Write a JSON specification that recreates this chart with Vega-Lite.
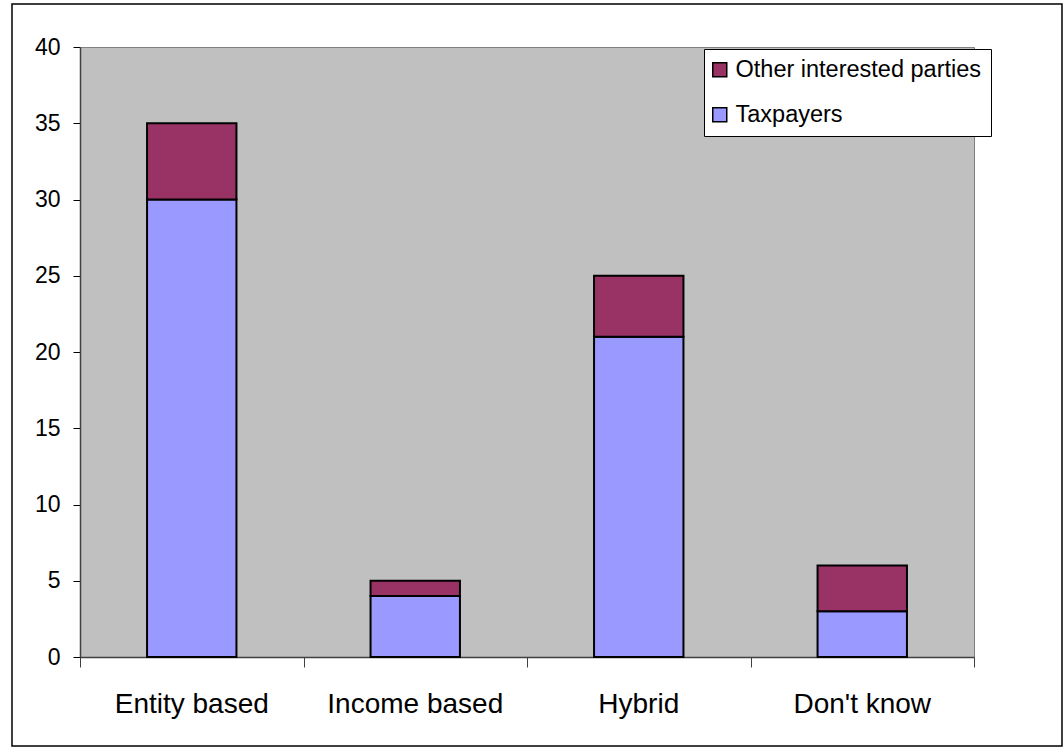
{
  "$schema": "https://vega.github.io/schema/vega-lite/v6.json",
  "width": 894,
  "height": 610,
  "autosize": {"type": "none"},
  "padding": {"left": 80, "top": 47, "right": 90, "bottom": 91},
  "background": "white",
  "config": {
    "font": "Liberation Sans",
    "view": {"fill": "#C0C0C0", "stroke": "#808080", "strokeWidth": 1}
  },
  "datasets": {
    "responses": [
      {"response": "Entity based", "series": "Taxpayers", "count": 30},
      {"response": "Entity based", "series": "Other interested parties", "count": 5},
      {"response": "Income based", "series": "Taxpayers", "count": 4},
      {"response": "Income based", "series": "Other interested parties", "count": 1},
      {"response": "Hybrid", "series": "Taxpayers", "count": 21},
      {"response": "Hybrid", "series": "Other interested parties", "count": 4},
      {"response": "Don't know", "series": "Taxpayers", "count": 3},
      {"response": "Don't know", "series": "Other interested parties", "count": 3}
    ]
  },
  "layer": [
    {
      "data": {"values": [{}]},
      "mark": {"type": "rect", "filled": false, "stroke": "black", "strokeWidth": 1.5},
      "encoding": {
        "x": {
          "datum": -0.3043,
          "type": "quantitative",
          "scale": {"domain": [0, 4], "nice": false, "zero": false},
          "axis": {
            "orient": "bottom",
            "title": null,
            "values": [0, 1, 2, 3, 4],
            "labels": false,
            "domain": false,
            "grid": false,
            "tickSize": 10,
            "tickColor": "#404040",
            "tickWidth": 1
          }
        },
        "x2": {"datum": 4.3937},
        "y": {
          "datum": 1.0705,
          "type": "quantitative",
          "scale": {"domain": [0, 1], "nice": false, "zero": false},
          "axis": null
        },
        "y2": {"datum": -0.1459}
      }
    },
    {
      "data": {"name": "responses"},
      "mark": {"type": "bar", "width": {"band": 0.4}, "stroke": "black", "strokeWidth": 2},
      "encoding": {
        "x": {
          "field": "response",
          "type": "nominal",
          "sort": ["Entity based", "Income based", "Hybrid", "Don't know"],
          "scale": {"paddingInner": 0, "paddingOuter": 0},
          "axis": {
            "orient": "bottom",
            "title": null,
            "labelAngle": 0,
            "labelFontSize": 28,
            "labelColor": "black",
            "labelPadding": 33,
            "ticks": false,
            "domainColor": "#404040",
            "domainWidth": 1.5
          }
        },
        "y": {
          "field": "count",
          "type": "quantitative",
          "stack": "zero",
          "scale": {"domain": [0, 40], "nice": false},
          "axis": {
            "title": null,
            "values": [0, 5, 10, 15, 20, 25, 30, 35, 40],
            "labelFontSize": 23,
            "labelColor": "black",
            "labelPadding": 13,
            "tickSize": 7,
            "tickColor": "black",
            "domainColor": "#404040",
            "domainWidth": 1.5,
            "gridColor": "black",
            "gridWidth": 1,
            "gridOpacity": 1
          }
        },
        "color": {
          "field": "series",
          "type": "nominal",
          "scale": {
            "domain": ["Other interested parties", "Taxpayers"],
            "range": ["#993366", "#9999FF"]
          },
          "legend": {
            "title": null,
            "orient": "none",
            "legendX": 624,
            "legendY": 2,
            "fillColor": "white",
            "strokeColor": "black",
            "padding": 9,
            "symbolType": "square",
            "symbolSize": 196,
            "symbolOffset": -5,
            "symbolStrokeColor": "black",
            "symbolStrokeWidth": 1.5,
            "labelFontSize": 23.5,
            "labelColor": "black",
            "labelOffset": 4,
            "labelLimit": 0,
            "rowPadding": 20
          }
        },
        "order": {"field": "series", "sort": "descending"}
      }
    }
  ],
  "resolve": {
    "scale": {"x": "independent", "y": "independent"},
    "axis": {"x": "independent", "y": "independent"}
  }
}
